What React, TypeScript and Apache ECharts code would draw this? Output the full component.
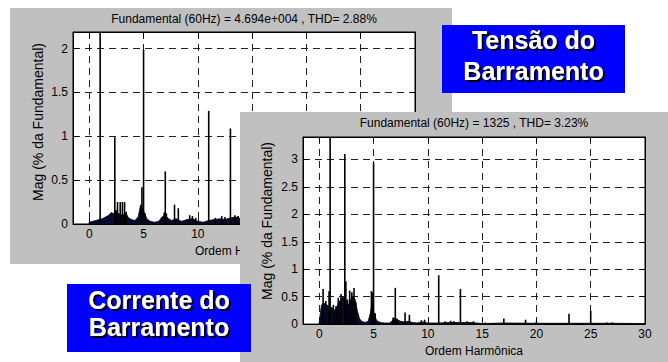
import React, { useEffect, useRef } from "react";
import * as echarts from "echarts";

// ---- texts ----
const topTitle = "Fundamental (60Hz) = 4.694e+004 , THD= 2.88%";
const lowerTitle = "Fundamental (60Hz) = 1325 , THD= 3.23%";
const xName = "Ordem Harmônica";
const yName = "Mag (% da Fundamental)";
const topLabel = ["Tensão do", "Barramento"];
const lowerLabel = ["Corrente do", "Barramento"];

// ---- axis ranges ----
const xRange = [-1.5, 30];
const topYMax = 2.19;
const lowerYMax = 3.41;

// ---- Tensão do Barramento: noise floor (harmonic order, % of fundamental) ----
const topFloor: [number, number][] = [
  [-0.05, 0], [0, 0.02], [0.3, 0.03], [0.6, 0.04], [0.9, 0.05], [1.2, 0.06],
  [1.5, 0.08], [1.8, 0.1], [2.0, 0.13], [2.2, 0.12], [2.5, 0.14], [2.7, 0.12],
  [3.0, 0.1], [3.4, 0.12], [3.6, 0.07], [3.9, 0.05], [4.2, 0.04], [4.5, 0.08],
  [4.7, 0.2], [4.9, 0.18], [5.1, 0.12], [5.3, 0.06], [5.6, 0.03], [6.0, 0.02],
  [6.4, 0.03], [6.7, 0.08], [7.0, 0.1], [7.3, 0.06], [7.6, 0.04], [8.0, 0.06],
  [8.5, 0.03], [9.0, 0.05], [9.5, 0.06], [10.0, 0.03], [10.5, 0.02], [11.0, 0.04],
  [11.5, 0.05], [12.0, 0.06], [12.5, 0.05], [13.0, 0.07], [13.5, 0.08], [14.0, 0.06],
  [15, 0.03], [17, 0.03], [19, 0.03], [21, 0.02], [23, 0.03], [25, 0.03],
  [27, 0.02], [29, 0.02], [30, 0.02],
];
// ---- Tensão do Barramento: spectral lines ----
const topPeaks: [number, number][] = [
  [1, 100], [2.35, 0.99], [2.45, 0.16], [2.6, 0.25], [2.85, 0.25], [3.05, 0.25],
  [3.25, 0.25], [3.4, 0.14], [4.75, 0.22], [4.85, 0.42], [5.0, 1.99], [5.15, 0.12],
  [6.9, 0.13], [7.0, 0.6], [7.1, 0.12], [7.85, 0.22], [8.2, 0.18], [9.25, 0.1],
  [9.5, 0.09], [9.8, 0.07], [11.0, 1.29], [11.6, 0.07], [12.2, 0.09], [12.5, 0.08],
  [13.0, 1.09], [13.4, 0.1], [13.7, 0.09],
];

// ---- Corrente do Barramento: noise floor ----
const lowerFloor: [number, number][] = [
  [-0.05, 0], [0, 0.02], [0.1, 0.2], [0.2, 0.35], [0.4, 0.38], [0.6, 0.37],
  [0.8, 0.33], [1.0, 0.3], [1.2, 0.3], [1.4, 0.25], [1.6, 0.3], [1.8, 0.4],
  [2.0, 0.45], [2.2, 0.5], [2.5, 0.4], [2.7, 0.35], [2.9, 0.45], [3.1, 0.5],
  [3.3, 0.45], [3.5, 0.25], [3.7, 0.1], [3.9, 0.05], [4.2, 0.03], [4.5, 0.05],
  [4.7, 0.2], [4.85, 0.35], [5.1, 0.15], [5.3, 0.06], [5.6, 0.03], [6.0, 0.02],
  [6.5, 0.02], [6.7, 0.06], [6.9, 0.1], [7.2, 0.08], [7.5, 0.05], [7.8, 0.04],
  [8.2, 0.05], [8.6, 0.03], [9.0, 0.02], [9.5, 0.04], [10, 0.02], [11, 0.02],
  [12, 0.03], [13, 0.03], [14, 0.03], [15, 0.01], [17, 0.02], [20, 0.015],
  [23, 0.015], [25, 0.015], [27, 0.015], [30, 0.01],
];
// ---- Corrente do Barramento: spectral lines ----
const lowerPeaks: [number, number][] = [
  [0.35, 0.64], [0.6, 0.42], [0.9, 0.6], [1, 100], [1.3, 0.35], [1.55, 0.33],
  [1.75, 0.48], [2.0, 0.55], [2.35, 3.1], [2.45, 0.78], [2.6, 0.45], [2.8, 0.61],
  [3.0, 0.58], [3.2, 0.66], [3.35, 0.4], [4.8, 0.6], [4.9, 0.58], [5.0, 2.94],
  [5.15, 0.2], [6.8, 0.12], [7.0, 0.66], [7.15, 0.1], [7.9, 0.21], [8.3, 0.17],
  [9.4, 0.07], [9.7, 0.08], [11, 0.89], [11.6, 0.05], [12.1, 0.06], [12.4, 0.05],
  [13, 0.64], [13.6, 0.05], [14.2, 0.05], [15.3, 0.03], [17, 0.1], [19, 0.08],
  [20, 0.05], [23, 0.19], [25, 0.245], [26.5, 0.03], [27, 0.03], [28.5, 0.02],
];

const FONT = '"Liberation Sans", Arial, Helvetica, sans-serif';
const GRAY = "#c0c0c0";
const BLUE = "#0000ff";

function mainX(gridIndex: number, z: number) {
  return {
    type: "value",
    gridIndex,
    min: xRange[0],
    max: xRange[1],
    splitNumber: 6,
    z,
    name: xName,
    nameLocation: "middle",
    nameGap: 19,
    nameTextStyle: { color: "#000", fontSize: 12, fontFamily: FONT },
    axisLine: { show: true, onZero: false, lineStyle: { color: "#000", width: 1 } },
    axisTick: { show: true, inside: true, length: 5, lineStyle: { color: "#000" } },
    axisLabel: { show: true, color: "#000", fontSize: 12, fontFamily: FONT, margin: 4, showMinLabel: false },
    splitLine: { show: true, lineStyle: { color: "#222", type: [7, 5], width: 1 } },
  };
}
function sideX(gridIndex: number, z: number) {
  return {
    type: "value",
    gridIndex,
    position: "top",
    min: xRange[0],
    max: xRange[1],
    splitNumber: 6,
    z,
    axisLine: { show: true, onZero: false, lineStyle: { color: "#000", width: 1 } },
    axisTick: { show: true, inside: true, length: 5, lineStyle: { color: "#000" } },
    axisLabel: { show: false },
    splitLine: { show: false },
  };
}
function mainY(gridIndex: number, max: number, z: number) {
  return {
    type: "value",
    gridIndex,
    min: 0,
    max,
    interval: 0.5,
    z,
    axisLine: { show: true, onZero: false, lineStyle: { color: "#000", width: 1 } },
    axisTick: { show: true, inside: true, length: 5, lineStyle: { color: "#000" } },
    axisLabel: { show: true, color: "#000", fontSize: 12, fontFamily: FONT, margin: 5, showMaxLabel: false },
    splitLine: { show: true, lineStyle: { color: "#222", type: [7, 5], width: 1 } },
  };
}
function sideY(gridIndex: number, max: number, z: number) {
  return {
    type: "value",
    gridIndex,
    position: "right",
    min: 0,
    max,
    interval: 0.5,
    z,
    axisLine: { show: true, onZero: false, lineStyle: { color: "#000", width: 1 } },
    axisTick: { show: true, inside: true, length: 5, lineStyle: { color: "#000" } },
    axisLabel: { show: false },
    splitLine: { show: false },
  };
}

function labelBox(x: number, y: number, w: number, h: number, lines: string[], centers: number[], z: number) {
  const cx = x + w / 2;
  return [
    { type: "rect", z, shape: { x, y, width: w, height: h }, style: { fill: BLUE } },
    ...lines.map((t, i) => ({
      type: "text",
      z: z + 1,
      x: cx,
      y: centers[i],
      style: {
        text: t,
        fill: "#fff",
        font: `bold 25px ${FONT}`,
        align: "center",
        verticalAlign: "middle",
        textShadowColor: "#000",
        textShadowBlur: 1,
        textShadowOffsetX: 2,
        textShadowOffsetY: 2,
      },
    })),
  ];
}

function yNameText(x: number, y: number, z: number) {
  return {
    type: "text",
    z,
    x,
    y,
    rotation: Math.PI / 2,
    style: { text: yName, fill: "#000", font: `14px ${FONT}`, align: "center", verticalAlign: "middle" },
  };
}

export default function App() {
  const ref = useRef<HTMLDivElement>(null);
  useEffect(() => {
    if (!ref.current) return;
    const chart = echarts.init(ref.current, undefined, { renderer: "svg" });
    const option: any = {
      animation: false,
      backgroundColor: "#fff",
      grid: [
        { left: 73, top: 32, width: 342, height: 192, show: true, backgroundColor: "#fff", borderColor: "#000", borderWidth: 1, z: 1 },
        { left: 303, top: 137, width: 342, height: 191, show: true, backgroundColor: "#fff", borderColor: "#000", borderWidth: 1, z: 6 },
      ],
      xAxis: [mainX(0, 2), sideX(0, 2), mainX(1, 7), sideX(1, 7)],
      yAxis: [mainY(0, topYMax, 2), sideY(0, topYMax, 2), mainY(1, lowerYMax, 7), sideY(1, lowerYMax, 7)],
      series: [
        {
          type: "line", xAxisIndex: 0, yAxisIndex: 0, data: topFloor, symbol: "none", z: 3, clip: true,
          lineStyle: { color: "#000", width: 0.8 }, areaStyle: { color: "#0a0a30", opacity: 1 },
        },
        {
          type: "bar", xAxisIndex: 0, yAxisIndex: 0, data: topPeaks, barWidth: 1.6, z: 3, clip: true,
          itemStyle: { color: "#000" },
        },
        {
          type: "line", xAxisIndex: 2, yAxisIndex: 2, data: lowerFloor, symbol: "none", z: 8, clip: true,
          lineStyle: { color: "#000", width: 0.8 }, areaStyle: { color: "#0a0a30", opacity: 1 },
        },
        {
          type: "bar", xAxisIndex: 2, yAxisIndex: 2, data: lowerPeaks, barWidth: 1.6, z: 8, clip: true,
          itemStyle: { color: "#000" },
        },
      ],
      graphic: {
        elements: [
          { type: "rect", z: 0, shape: { x: 10, y: 8, width: 442, height: 256 }, style: { fill: GRAY } },
          { type: "text", z: 3, x: 244, y: 19, style: { text: topTitle, fill: "#000", font: `12px ${FONT}`, align: "center", verticalAlign: "middle" } },
          yNameText(38, 122, 3),
          { type: "rect", z: 5, shape: { x: 240, y: 112, width: 428, height: 250 }, style: { fill: GRAY } },
          { type: "text", z: 8, x: 474, y: 123, style: { text: lowerTitle, fill: "#000", font: `12px ${FONT}`, align: "center", verticalAlign: "middle" } },
          yNameText(267, 221, 8),
          ...labelBox(442, 25, 183, 68, topLabel, [39.5, 70.5], 20),
          ...labelBox(67, 284, 184, 68, lowerLabel, [300, 327], 20),
        ],
      },
    };
    chart.setOption(option);
    return () => chart.dispose();
  }, []);
  return <div ref={ref} style={{ position: "absolute", left: 0, top: 0, width: 668, height: 362 }} />;
}
